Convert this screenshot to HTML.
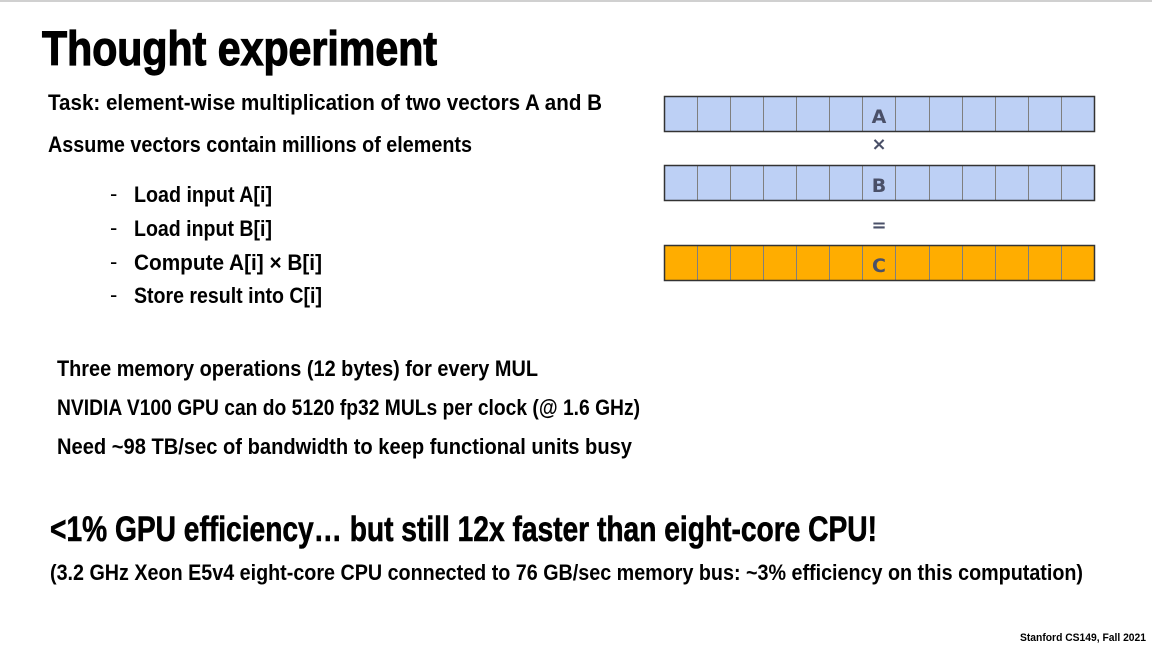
<!DOCTYPE html>
<html><head><style>html,body{margin:0;padding:0;background:#fff}svg{display:block}</style></head>
<body>
<svg width="1152" height="650" xmlns="http://www.w3.org/2000/svg" font-family="Liberation Sans, sans-serif" font-weight="bold">
<rect x="0" y="0" width="1152" height="2" fill="#d0d0d0"/>
<text x="42" y="65" font-size="48" stroke="#000" stroke-width="1.2" textLength="395" lengthAdjust="spacingAndGlyphs">Thought experiment</text>
<text x="48" y="110" font-size="22" textLength="554" lengthAdjust="spacingAndGlyphs">Task: element-wise multiplication of two vectors A and B</text>
<text x="48" y="152" font-size="22" textLength="424" lengthAdjust="spacingAndGlyphs">Assume vectors contain millions of elements</text>
<g font-size="22">
<text x="110" y="201" font-weight="normal">-</text><text x="134" y="202" textLength="138" lengthAdjust="spacingAndGlyphs">Load input A[i]</text>
<text x="110" y="235" font-weight="normal">-</text><text x="134" y="236" textLength="138" lengthAdjust="spacingAndGlyphs">Load input B[i]</text>
<text x="110" y="269" font-weight="normal">-</text><text x="134" y="270" textLength="188" lengthAdjust="spacingAndGlyphs">Compute A[i] × B[i]</text>
<text x="110" y="302" font-weight="normal">-</text><text x="134" y="303" textLength="188" lengthAdjust="spacingAndGlyphs">Store result into C[i]</text>
<text x="57" y="376" textLength="481" lengthAdjust="spacingAndGlyphs">Three memory operations (12 bytes) for every MUL</text>
<text x="57" y="415" textLength="583" lengthAdjust="spacingAndGlyphs">NVIDIA V100 GPU can do 5120 fp32 MULs per clock (@ 1.6 GHz)</text>
<text x="57" y="454" textLength="575" lengthAdjust="spacingAndGlyphs">Need ~98 TB/sec of bandwidth to keep functional units busy</text>
<text x="50" y="580" textLength="1033" lengthAdjust="spacingAndGlyphs">(3.2 GHz Xeon E5v4 eight-core CPU connected to 76 GB/sec memory bus: ~3% efficiency on this computation)</text>
</g>
<text x="50" y="541" font-size="35" stroke="#000" stroke-width="0.6" textLength="827" lengthAdjust="spacingAndGlyphs">&lt;1% GPU efficiency… but still 12x faster than eight-core CPU!</text>
<text x="1020" y="641" font-size="11" textLength="126" lengthAdjust="spacingAndGlyphs">Stanford CS149, Fall 2021</text>

<g stroke="#7f7f7f" stroke-width="1">
<rect x="664.5" y="96.5" width="430" height="35" fill="#bdd0f5"/>
<rect x="664.5" y="165.5" width="430" height="35" fill="#bdd0f5"/>
<rect x="664.5" y="245.5" width="430" height="35" fill="#ffad00"/>
<path d="M697.5 96v36M730.5 96v36M763.5 96v36M796.5 96v36M829.5 96v36M862.5 96v36M895.5 96v36M929.5 96v36M962.5 96v36M995.5 96v36M1028.5 96v36M1061.5 96v36
M697.5 165v36M730.5 165v36M763.5 165v36M796.5 165v36M829.5 165v36M862.5 165v36M895.5 165v36M929.5 165v36M962.5 165v36M995.5 165v36M1028.5 165v36M1061.5 165v36
M697.5 245v36M730.5 245v36M763.5 245v36M796.5 245v36M829.5 245v36M862.5 245v36M895.5 245v36M929.5 245v36M962.5 245v36M995.5 245v36M1028.5 245v36M1061.5 245v36"/>
</g>
<g stroke="#333" stroke-width="1.5" fill="none">
<rect x="664.5" y="96.5" width="430" height="35"/>
<rect x="664.5" y="165.5" width="430" height="35"/>
<rect x="664.5" y="245.5" width="430" height="35"/>
</g>
<g font-family="DejaVu Sans, sans-serif" font-size="19" fill="#4a5068" text-anchor="middle">
<text x="879" y="123">A</text>
<text x="879" y="192">B</text>
<text x="879" y="272">C</text>
<text x="879" y="150" font-size="18">×</text>
<text x="879" y="231" font-size="18">=</text>
</g>
</svg>
</body></html>
